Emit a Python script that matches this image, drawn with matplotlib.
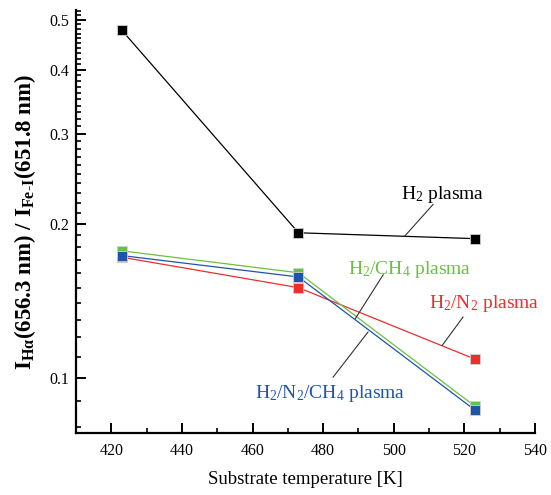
import matplotlib
matplotlib.use('Agg')
import matplotlib.pyplot as plt
from matplotlib.ticker import MultipleLocator, FixedLocator, NullFormatter

plt.rcParams['font.family'] = 'Liberation Serif'
plt.rcParams['mathtext.fontset'] = 'custom'
plt.rcParams['mathtext.rm'] = 'Liberation Serif'
plt.rcParams['mathtext.it'] = 'Liberation Serif:italic'
plt.rcParams['mathtext.bf'] = 'Liberation Serif:bold'

temperature = [423, 473, 523]
h2 = [0.477, 0.192, 0.187]
h2_n2 = [0.172, 0.150, 0.1088]
h2_ch4 = [0.177, 0.1604, 0.088]
h2_n2_ch4 = [0.1733, 0.1574, 0.0865]

series = [
    (h2, '#000000'),
    (h2_n2, '#ee2d2d'),
    (h2_ch4, '#6dbe45'),
    (h2_n2_ch4, '#1f55a8'),
]

# label text, colour, text position, leader line (start, end)
labels = [
    (r'H$_2$ plasma', '#000000', (513.7, 0.228), (511.1, 0.218), (503.2, 0.1895)),
    (r'H$_2$/CH$_4$ plasma', '#6dbe45', (504.6, 0.1626), (497.0, 0.1590), (489.1, 0.1305)),
    (r'H$_2$/N$_2$ plasma', '#ee2d2d', (525.6, 0.140), (519.6, 0.1314), (513.7, 0.1157)),
    (r'H$_2$/N$_2$/CH$_4$ plasma', '#1f55a8', (482.0, 0.0933), (482.8, 0.1003), (492.7, 0.1229)),
]

fig = plt.figure(figsize=(5.51, 4.95), dpi=100)
ax = fig.add_axes([0.138, 0.125, 0.833, 0.855])

for vals, col in series:
    ax.plot(temperature, vals, color=col, lw=0.9, marker='s', ms=7,
            mfc=col, mec='#d0d0d0', mew=0.6)

for txt, col, pos, p0, p1 in labels:
    ax.plot([p0[0], p1[0]], [p0[1], p1[1]], color='#333333', lw=0.8)
    ax.text(pos[0], pos[1], txt, color=col, fontsize=14, ha='center', va='center')

ax.set_yscale('log')
ax.set_xlim(410, 540)
ax.set_ylim(0.078, 0.523)

ax.xaxis.set_major_locator(MultipleLocator(20))
ax.xaxis.set_minor_locator(MultipleLocator(10))
ax.yaxis.set_major_locator(FixedLocator([0.1, 0.2, 0.3, 0.4, 0.5]))
ax.yaxis.set_minor_locator(FixedLocator([i / 100 for i in range(8, 53)]))
ax.yaxis.set_minor_formatter(NullFormatter())
ax.set_yticklabels(['0.1', '0.2', '0.3', '0.4', '0.5'])

for s in ['top', 'right']:
    ax.spines[s].set_visible(False)
for s in ['left', 'bottom']:
    ax.spines[s].set_linewidth(1.6)

ax.tick_params(which='major', direction='in', length=7, width=1.4, labelsize=11.5)
ax.tick_params(axis='x', which='major', pad=7)
ax.tick_params(axis='y', which='major', pad=5)
ax.tick_params(which='minor', direction='in', length=3.5, width=1.2)

ax.set_xlabel('Substrate temperature [K]', fontsize=13.5, labelpad=9)
ax.set_ylabel(r'I$_{\mathbf{H\alpha}}$(656.3 nm) / I$_{\mathbf{Fe\text{-}I}}$(651.8 nm)',
              fontsize=16.5, fontweight='bold', labelpad=8)

fig.savefig('out.png', dpi=100)
